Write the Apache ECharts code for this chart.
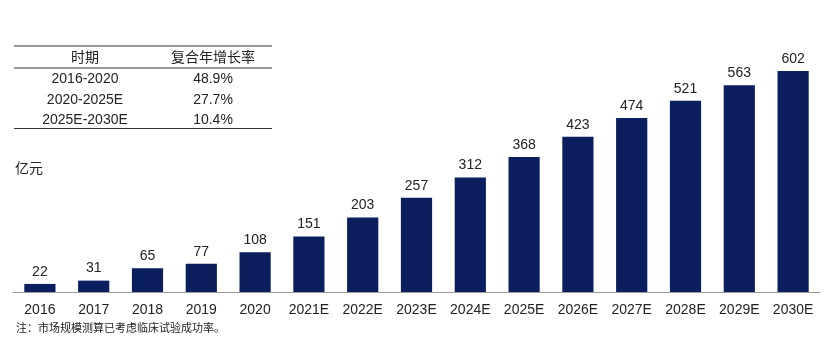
<!DOCTYPE html>
<html><head><meta charset="utf-8">
<script src="https://cdn.jsdelivr.net/npm/echarts@6/dist/echarts.min.js"></script>
<style>html,body{margin:0;padding:0;background:#fff}#c{width:835px;height:344px}</style>
</head><body><div id="c"></div>
<script>
const categories = ['2016','2017','2018','2019','2020','2021E','2022E','2023E','2024E','2025E','2026E','2027E','2028E','2029E','2030E'];
const marketSize = [22,31,65,77,108,151,203,257,312,368,423,474,521,563,602];
const tableHeader = ['时期','复合年增长率'];
const tablePeriods = ['2016-2020','2020-2025E','2025E-2030E'];
const tableCagr = ['48.9%','27.7%','10.4%'];
const unitLabel = '亿元';
const noteText = '注：市场规模测算已考虑临床试验成功率。';

const font = 'Liberation Sans, Arial, "Noto Sans CJK SC", sans-serif';
const chart = echarts.init(document.getElementById('c'));
const g = [];
const colX = [85, 213];
const rowY = [58, 79, 100, 120];
g.push({type:'line', shape:{x1:14,y1:46,x2:272,y2:46}, style:{stroke:'#333',lineWidth:1.2}});
g.push({type:'line', shape:{x1:14,y1:68,x2:272,y2:68}, style:{stroke:'#333',lineWidth:1.2}});
g.push({type:'line', shape:{x1:14,y1:128.5,x2:272,y2:128.5}, style:{stroke:'#333',lineWidth:1.2}});
tableHeader.forEach((t,i)=>g.push({type:'text', x:colX[i], y:rowY[0], style:{text:t, font:'14px '+font, fill:'#222', align:'center', verticalAlign:'middle'}}));
tablePeriods.forEach((t,i)=>{
  g.push({type:'text', x:colX[0], y:rowY[i+1], style:{text:t, font:'14px '+font, fill:'#222', align:'center', verticalAlign:'middle'}});
  g.push({type:'text', x:colX[1], y:rowY[i+1], style:{text:tableCagr[i], font:'14px '+font, fill:'#222', align:'center', verticalAlign:'middle'}});
});
g.push({type:'text', x:15, y:169, style:{text:unitLabel, font:'14px '+font, fill:'#222', align:'left', verticalAlign:'middle'}});
g.push({type:'text', x:16, y:329, style:{text:noteText, font:'11px '+font, fill:'#222', align:'left', verticalAlign:'middle'}});

chart.setOption({
  animation:false,
  grid:{left:13, right:15, top:35, bottom:52},
  xAxis:{type:'category', data:categories,
    axisLine:{lineStyle:{color:'#999',width:1}}, axisTick:{show:false},
    axisLabel:{color:'#222', fontSize:14, fontFamily:font, margin:11}},
  yAxis:{type:'value', min:0, max:700, show:false, splitLine:{show:false}},
  series:[{type:'bar', data:marketSize, barWidth:'58%',
    itemStyle:{color:'#0b1f5e'},
    label:{show:true, position:'top', color:'#222', fontSize:14, fontFamily:font, distance:5}}],
  graphic:g
});
</script></body></html>
